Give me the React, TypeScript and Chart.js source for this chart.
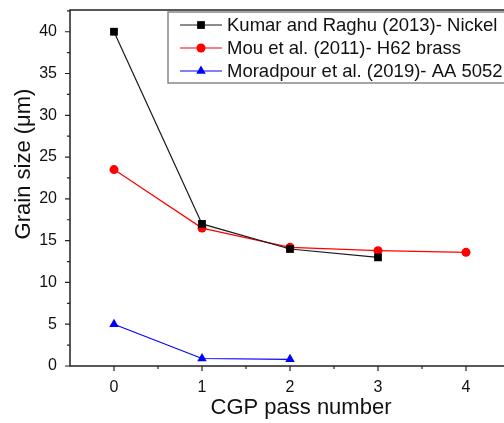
import { useEffect, useRef } from 'react';
import { Chart, registerables } from 'chart.js';

Chart.register(...registerables);

const kumarPasses = [0, 1, 2, 3];
const kumarNickel = [40, 17, 14, 13];
const mouPasses = [0, 1, 2, 3, 4];
const mouBrass = [23.5, 16.5, 14.2, 13.8, 13.6];
const moradpourPasses = [0, 1, 2];
const moradpourAA5052 = [5, 0.9, 0.8];
const seriesLabels = [
  'Kumar and Raghu (2013)- Nickel',
  'Mou et al. (2011)- H62 brass',
  'Moradpour et al. (2019)- AA 5052',
];
const xTickValues = [0, 1, 2, 3, 4];
const yTickValues = [0, 5, 10, 15, 20, 25, 30, 35, 40];
const xTitle = 'CGP pass number';
const yTitle = 'Grain size (μm)';

const FONT = "'Liberation Sans', Arial, sans-serif";

const toPoints = (xs: number[], ys: number[]) => xs.map((x, i) => ({ x, y: ys[i] }));

function drawPoint(ctx: CanvasRenderingContext2D, style: string, r: number, x: number, y: number) {
  ctx.beginPath();
  if (style === 'rect') {
    const s = r * Math.SQRT1_2;
    ctx.rect(x - s, y - s, 2 * s, 2 * s);
  } else if (style === 'triangle') {
    const a = -Math.PI / 2;
    for (let k = 0; k < 3; k++) {
      const ang = a + (k * 2 * Math.PI) / 3;
      const px = x + Math.cos(ang) * r;
      const py = y + Math.sin(ang) * r;
      if (k === 0) ctx.moveTo(px, py);
      else ctx.lineTo(px, py);
    }
    ctx.closePath();
  } else {
    ctx.arc(x, y, r, 0, Math.PI * 2);
  }
  ctx.fill();
}

const framePlugin = {
  id: 'originFrame',
  afterDatasetsDraw(chart: any) {
    const { ctx, chartArea, scales } = chart;
    const xs = scales.x;
    const ys = scales.y;
    ctx.save();
    ctx.strokeStyle = '#222';
    ctx.lineWidth = 1.5;
    ctx.strokeRect(chartArea.left, chartArea.top, chartArea.right - chartArea.left, chartArea.bottom - chartArea.top);
    ctx.lineWidth = 1.2;
    ctx.beginPath();
    const yStep = yTickValues[1] - yTickValues[0];
    yTickValues.forEach((v) => {
      const p = ys.getPixelForValue(v);
      ctx.moveTo(chartArea.left, p);
      ctx.lineTo(chartArea.left - 5, p);
      const m = v + yStep / 2;
      if (m < ys.max) {
        const pm = ys.getPixelForValue(m);
        ctx.moveTo(chartArea.left, pm);
        ctx.lineTo(chartArea.left - 3, pm);
      }
    });
    const xStep = xTickValues[1] - xTickValues[0];
    xTickValues.forEach((v) => {
      const p = xs.getPixelForValue(v);
      ctx.moveTo(p, chartArea.bottom);
      ctx.lineTo(p, chartArea.bottom + 5);
      const m = v + xStep / 2;
      if (m < xs.max) {
        const pm = xs.getPixelForValue(m);
        ctx.moveTo(pm, chartArea.bottom);
        ctx.lineTo(pm, chartArea.bottom + 3);
      }
    });
    ctx.stroke();

    // y-axis title
    ctx.save();
    ctx.translate(chartArea.left - 46, (chartArea.top + chartArea.bottom) / 2 - 24);
    ctx.rotate(-Math.PI / 2);
    ctx.font = `22px ${FONT}`;
    ctx.fillStyle = '#111';
    ctx.textAlign = 'center';
    ctx.textBaseline = 'middle';
    ctx.fillText(yTitle, 0, 0);
    ctx.restore();

    // legend
    const bx = chartArea.left + 98;
    const by = chartArea.top + 2;
    const bh = 71;
    ctx.fillStyle = '#fff';
    ctx.fillRect(bx, by, chart.width - bx + 10, bh);
    ctx.strokeStyle = '#888';
    ctx.lineWidth = 1.5;
    ctx.strokeRect(bx, by, chart.width - bx + 10, bh);
    ctx.font = `18.5px ${FONT}`;
    ctx.textBaseline = 'middle';
    ctx.textAlign = 'left';
    chart.data.datasets.forEach((ds: any, i: number) => {
      const y = by + 13 + i * 23;
      ctx.strokeStyle = ds.borderColor;
      ctx.lineWidth = ds.borderWidth;
      ctx.beginPath();
      ctx.moveTo(bx + 12, y);
      ctx.lineTo(bx + 54, y);
      ctx.stroke();
      ctx.fillStyle = ds.backgroundColor;
      drawPoint(ctx, ds.pointStyle, ds.pointRadius, bx + 33, y);
      ctx.fillStyle = '#111';
      ctx.fillText(ds.label, bx + 59, y + 1);
    });
    ctx.restore();
  },
};

export default function App() {
  const ref = useRef<HTMLCanvasElement>(null);
  useEffect(() => {
    if (!ref.current) return;
    const chart = new Chart(ref.current, {
      type: 'scatter',
      data: {
        datasets: [
          {
            label: seriesLabels[0],
            data: toPoints(kumarPasses, kumarNickel),
            showLine: true,
            borderColor: '#1a1a1a',
            backgroundColor: '#000',
            borderWidth: 1.2,
            pointStyle: 'rect',
            pointRadius: 5.5,
            pointBorderWidth: 0,
          },
          {
            label: seriesLabels[1],
            data: toPoints(mouPasses, mouBrass),
            showLine: true,
            borderColor: '#ff0000',
            backgroundColor: '#ff0000',
            borderWidth: 1.2,
            pointStyle: 'circle',
            pointRadius: 4.5,
            pointBorderWidth: 0,
          },
          {
            label: seriesLabels[2],
            data: toPoints(moradpourPasses, moradpourAA5052),
            showLine: true,
            borderColor: '#0000ff',
            backgroundColor: '#0000ff',
            borderWidth: 1.2,
            pointStyle: 'triangle',
            pointRadius: 5.5,
            pointBorderWidth: 0,
          },
        ],
      },
      options: {
        responsive: false,
        animation: false,
        devicePixelRatio: 1,
        layout: { padding: { top: 10, right: 8, left: 0, bottom: 0 } },
        plugins: { legend: { display: false }, tooltip: { enabled: false } },
        scales: {
          x: {
            type: 'linear',
            min: -0.5,
            max: 4.75,
            grid: { display: false, drawTicks: false },
            border: { display: false },
            afterBuildTicks: (s: any) => {
              s.ticks = xTickValues.map((v) => ({ value: v }));
            },
            afterFit: (s: any) => {
              s.height = 57;
              s.paddingLeft = 0;
              s.paddingRight = 0;
            },
            ticks: {
              color: '#111',
              font: { family: FONT, size: 16 },
              padding: 12,
              maxRotation: 0,
              callback: (v: any) => String(v),
            },
            title: {
              display: true,
              text: xTitle,
              color: '#111',
              font: { family: FONT, size: 22 },
              padding: { top: 0, bottom: 2 },
            },
          },
          y: {
            type: 'linear',
            min: 0,
            max: 42.6,
            grid: { display: false, drawTicks: false },
            border: { display: false },
            afterBuildTicks: (s: any) => {
              s.ticks = yTickValues.map((v) => ({ value: v }));
            },
            afterFit: (s: any) => {
              s.width = 70;
              s.paddingTop = 0;
              s.paddingBottom = 0;
            },
            ticks: {
              color: '#111',
              font: { family: FONT, size: 16 },
              padding: 13,
              callback: (v: any) => String(v),
            },
            title: { display: false },
          },
        },
      },
      plugins: [framePlugin],
    });
    return () => chart.destroy();
  }, []);
  return (
    <div style={{ position: 'fixed', left: 0, top: 0, width: 504, height: 423, overflow: 'hidden', background: '#fff' }}>
      <canvas ref={ref} width={540} height={423} style={{ width: 540, height: 423, display: 'block' }} />
    </div>
  );
}
